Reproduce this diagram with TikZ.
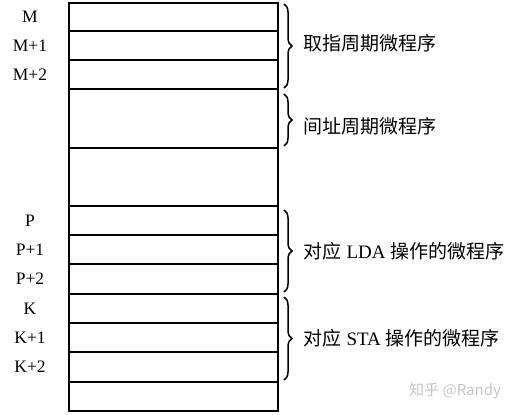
\documentclass[tikz,border=0pt]{standalone}
\usepackage{fontspec}
\setmainfont{Liberation Serif}
\newfontfamily\cjk{Noto Sans CJK SC}
\usetikzlibrary{decorations.pathreplacing}
\begin{document}
\begin{tikzpicture}[x=1pt, y=-1pt,
    cell/.style={rectangle, draw, line width=1.6pt, minimum width=209pt,
        anchor=north west, inner sep=0pt, outer sep=0pt},
    addr/.style={font=\fontsize{17.5}{20}\selectfont},
    bracestyle/.style={draw, decorate, decoration={brace, amplitude=8pt}, line width=1.5pt},
    note/.style={anchor=west, inner sep=0pt, font=\fontsize{19}{22}\selectfont},
    watermark/.style={anchor=west, inner sep=0pt, text=gray!45, font=\fontsize{15}{18}\selectfont\cjk}
]
\useasboundingbox (0,0) rectangle (515,415);
% memory rows
\foreach \name/\top/\h in {r1/3/28pt, r2/31/29pt, r3/60/29pt, r4/89/59pt,
    r5/148/58pt, r6/206/29pt, r7/235/29pt, r8/264/30pt, r9/294/29pt,
    r10/323/29pt, r11/352/30pt, r12/382/29pt}
  \node[cell, minimum height=\h] (\name) at (69,\top) {};
% addresses
\node[addr] (lM)  at ([xshift=-39pt]r1.west) {M};
\node[addr] (lM1) at ([xshift=-39pt]r2.west) {M+1};
\node[addr] (lM2) at ([xshift=-39pt]r3.west) {M+2};
\node[addr] (lP)  at ([xshift=-39pt]r6.west) {P};
\node[addr] (lP1) at ([xshift=-39pt]r7.west) {P+1};
\node[addr] (lP2) at ([xshift=-39pt]r8.west) {P+2};
\node[addr] (lK)  at ([xshift=-39pt]r9.west) {K};
\node[addr] (lK1) at ([xshift=-39pt]r10.west) {K+1};
\node[addr] (lK2) at ([xshift=-39pt]r11.west) {K+2};
% braces
\draw[bracestyle] ([xshift=6pt,yshift=-1pt]r1.north east) -- ([xshift=6pt,yshift=1pt]r3.south east)
  node[note, midway, xshift=19pt, yshift=3pt] (fetch) {\cjk 取指周期微程序};
\draw[bracestyle] ([xshift=6pt,yshift=-5pt]r4.north east) -- ([xshift=6pt,yshift=2pt]r4.south east)
  node[note, midway, xshift=19pt, yshift=-6pt] (indirect) {\cjk 间址周期微程序};
\draw[bracestyle] ([xshift=6pt,yshift=-4pt]r6.north east) -- ([xshift=6pt,yshift=2pt]r8.south east)
  node[note, midway, xshift=19pt] (lda) {{\cjk 对应} LDA {\cjk 操作的微程序}};
\draw[bracestyle] ([xshift=6pt,yshift=-3pt]r9.north east) -- ([xshift=6pt,yshift=2pt]r11.south east)
  node[note, midway, xshift=19pt] (sta) {{\cjk 对应} STA {\cjk 操作的微程序}};
\node[watermark] (zhihu) at (409,391) {知乎 @Randy};
\end{tikzpicture}
\end{document}
